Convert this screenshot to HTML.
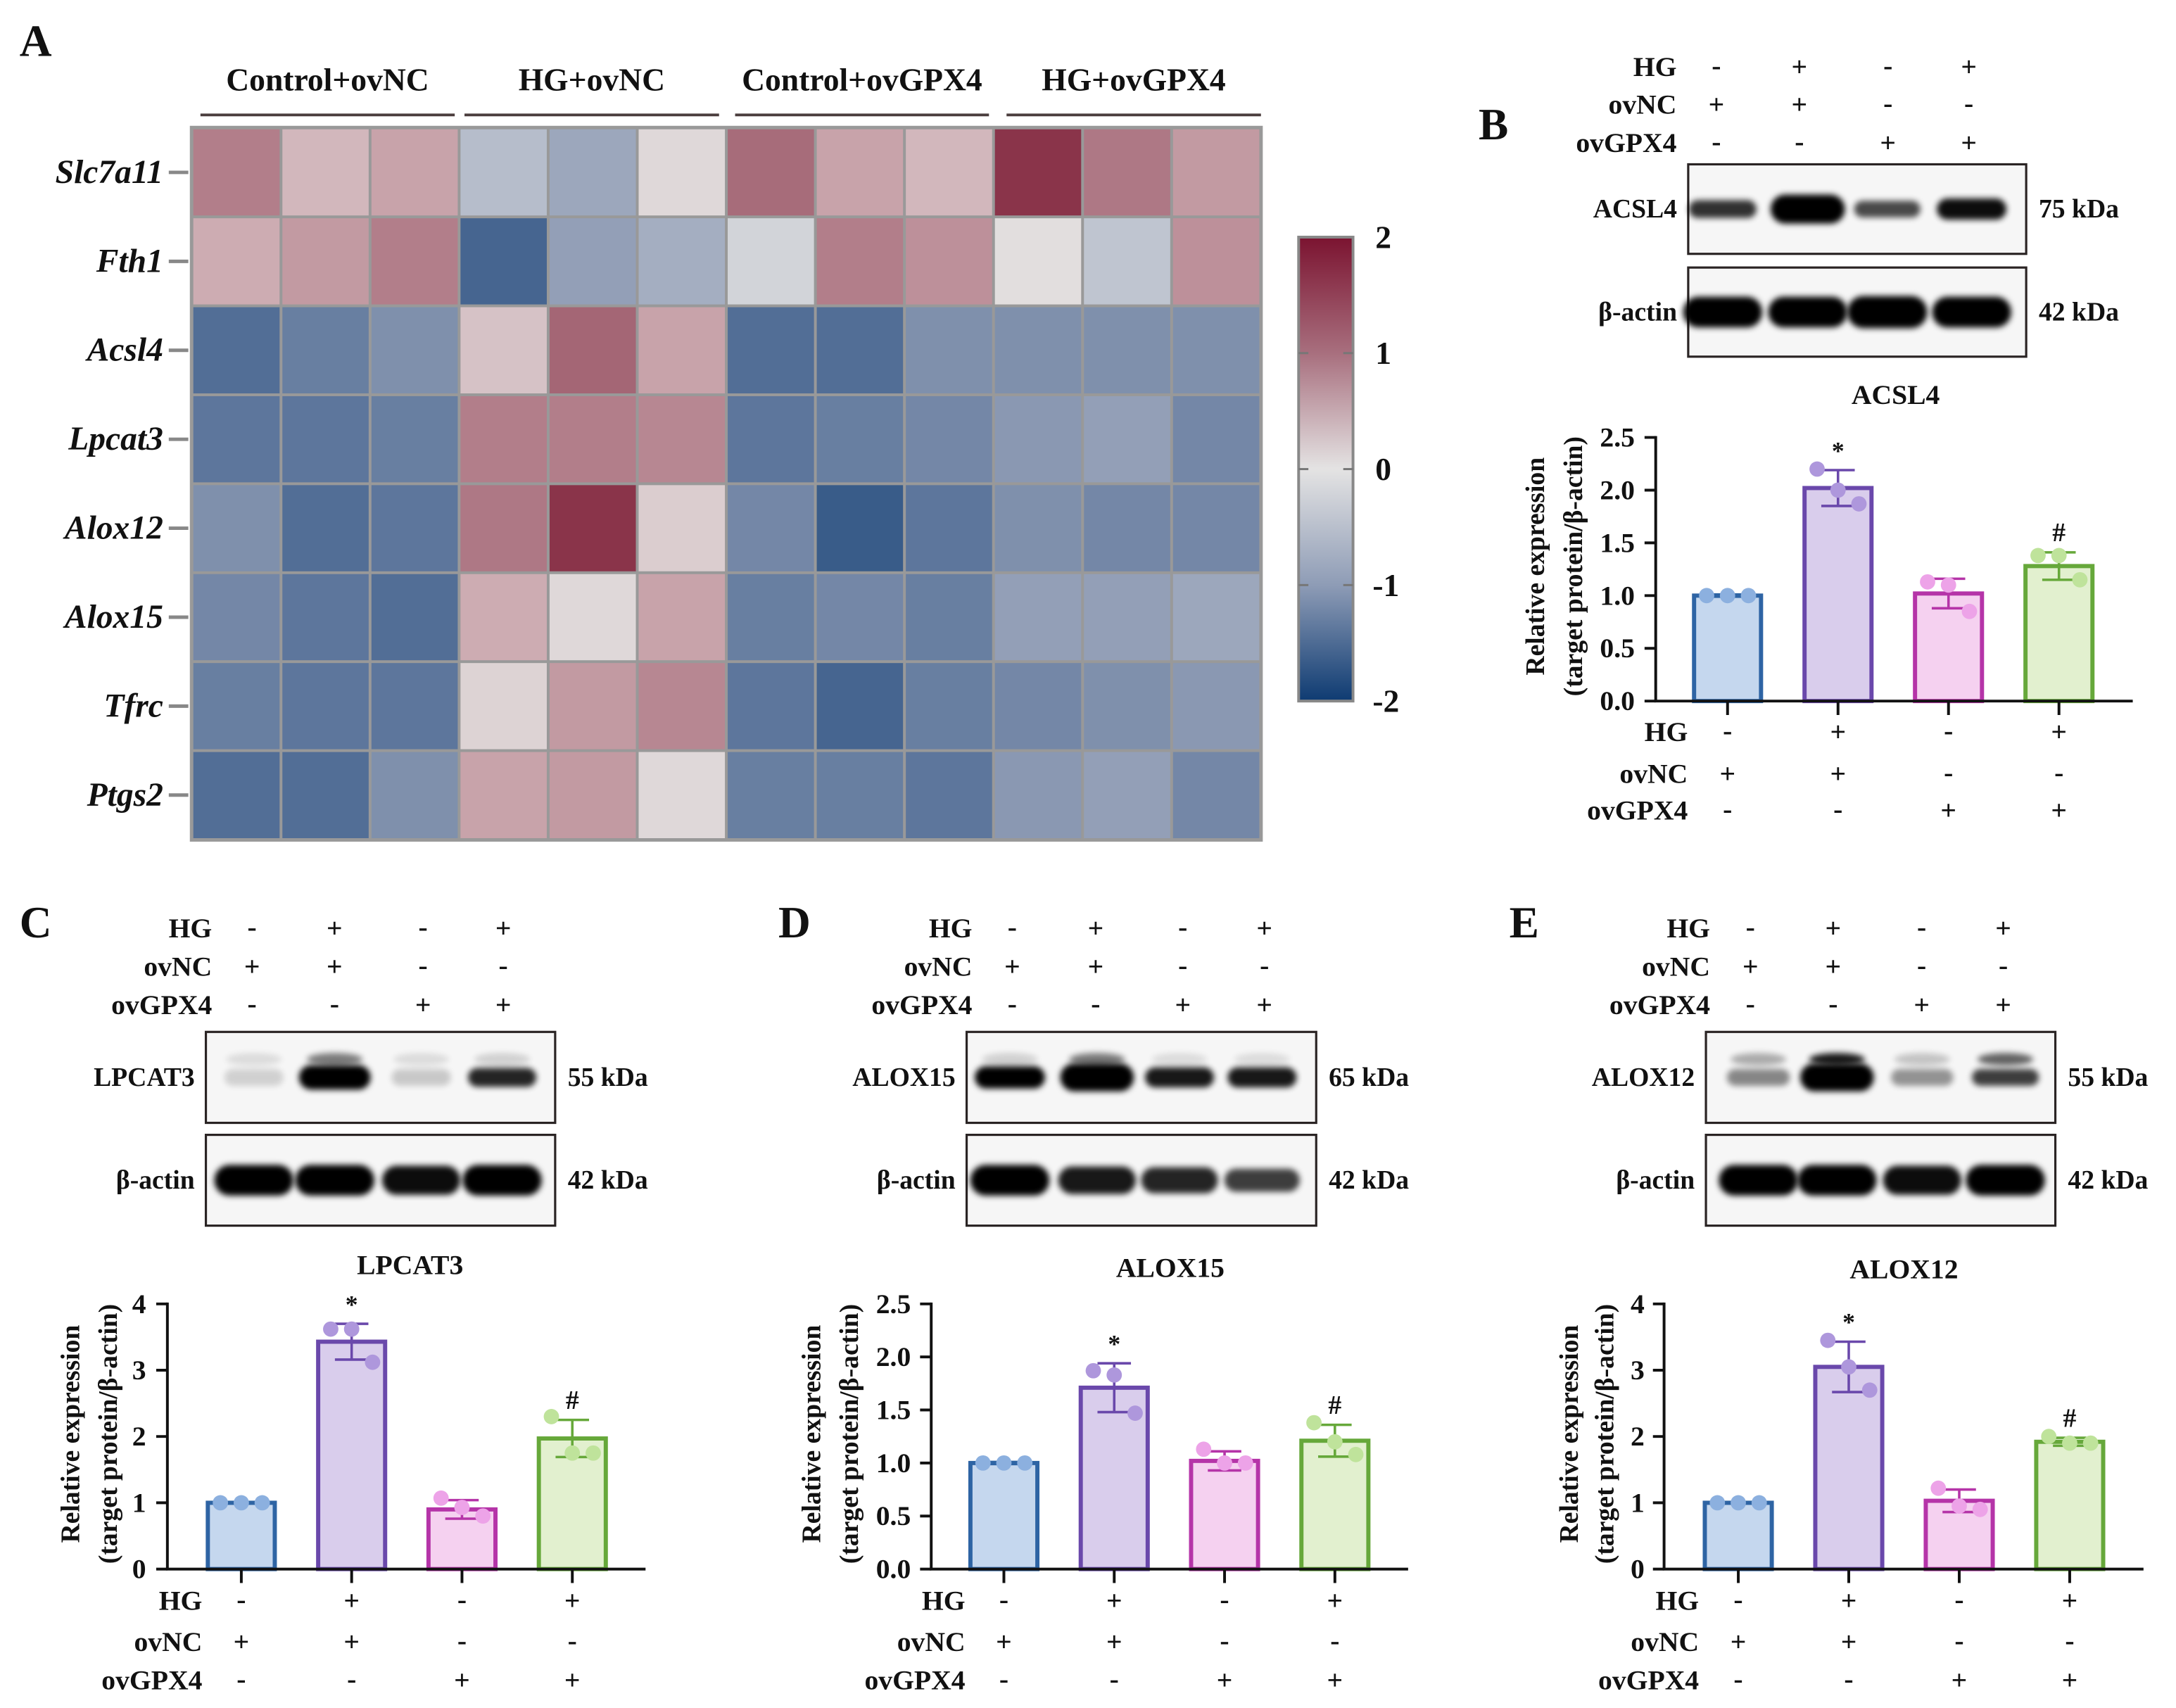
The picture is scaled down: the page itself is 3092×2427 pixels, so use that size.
<!DOCTYPE html>
<html><head><meta charset="utf-8"><style>
html,body{margin:0;padding:0;background:#fff;}
svg{display:block;}
text{font-family:"Liberation Serif",serif;font-weight:bold;fill:#111;}
</style></head><body>
<svg id="fig" xmlns="http://www.w3.org/2000/svg" width="3092" height="2427" viewBox="0 0 1560 1224.5" preserveAspectRatio="none">
<defs>
<linearGradient id="cbar" x1="0" y1="0" x2="0" y2="1">
<stop offset="0" stop-color="#7b1330"/><stop offset="0.25" stop-color="#a86f7e"/><stop offset="0.5" stop-color="#e4e3e3"/><stop offset="0.75" stop-color="#8e9cb6"/><stop offset="1" stop-color="#0e3b72"/>
</linearGradient>
<filter id="blur" x="-20%" y="-50%" width="140%" height="200%"><feGaussianBlur stdDeviation="2.2"/></filter>
</defs>
<g id="root"></g>
</svg>
<script>
// ---------- Heatmap data ----------
const genes = ["Slc7a11","Fth1","Acsl4","Lpcat3","Alox12","Alox15","Tfrc","Ptgs2"];
const groups = ["Control+ovNC","HG+ovNC","Control+ovGPX4","HG+ovGPX4"];
const hmSlc7a11 = [1.0,0.4,0.6,-0.5,-0.8,0.1,1.3,0.6,0.4,2.0,1.1,0.7];
const hmFth1 = [0.5,0.7,1.0,-1.6,-0.9,-0.7,-0.2,1.0,0.8,0.05,-0.4,0.8];
const hmAcsl4 = [-1.5,-1.3,-1.1,0.3,1.4,0.6,-1.5,-1.5,-1.1,-1.1,-1.1,-1.1];
const hmLpcat3 = [-1.4,-1.4,-1.3,1.0,1.0,0.9,-1.4,-1.3,-1.2,-1.0,-0.9,-1.2];
const hmAlox12 = [-1.1,-1.5,-1.4,1.1,2.0,0.2,-1.2,-1.7,-1.4,-1.1,-1.2,-1.2];
const hmAlox15 = [-1.2,-1.4,-1.5,0.5,0.1,0.6,-1.3,-1.2,-1.3,-0.9,-0.9,-0.8];
const hmTfrc = [-1.3,-1.4,-1.4,0.15,0.7,0.9,-1.4,-1.6,-1.3,-1.2,-1.1,-1.0];
const hmPtgs2 = [-1.5,-1.5,-1.1,0.6,0.7,0.1,-1.3,-1.3,-1.4,-1.0,-0.9,-1.2];
const colorbarTicks = [2,1,0,-1,-2];

// ---------- Bar chart data ----------
const conditions = ["HG","ovNC","ovGPX4"];
const signHG = ["-","+","-","+"];
const signOvNC = ["+","+","-","-"];
const signOvGPX4 = ["-","-","+","+"];
const barsB = [1.0,2.02,1.02,1.28];
const sdB = [0.01,0.17,0.14,0.13];
const dotsB = [[1,1,1],[2.2,2.0,1.87],[1.13,1.1,0.85],[1.38,1.38,1.15]];
const ticksB = [0,0.5,1.0,1.5,2.0,2.5];
const barsC = [1.0,3.43,0.9,1.97];
const sdC = [0.01,0.27,0.14,0.28];
const dotsC = [[1,1,1],[3.62,3.62,3.12],[1.07,0.93,0.8],[2.3,1.75,1.75]];
const ticksC = [0,1,2,3,4];
const barsD = [1.0,1.71,1.02,1.21];
const sdD = [0.01,0.23,0.09,0.15];
const dotsD = [[1,1,1],[1.87,1.83,1.47],[1.13,1.0,1.0],[1.38,1.2,1.08]];
const ticksD = [0,0.5,1.0,1.5,2.0,2.5];
const barsE = [1.0,3.05,1.03,1.92];
const sdE = [0.01,0.38,0.17,0.06];
const dotsE = [[1,1,1],[3.45,3.05,2.7],[1.22,0.95,0.9],[2.0,1.9,1.9]];
const ticksE = [0,1,2,3,4];
const markers = ["","*","","#"];
const bandB = [0.8,1.3,0.7,0.95];
const bandC = [0.15,1.1,0.18,0.85];
const bandD = [1.0,1.25,0.9,0.9];
const bandE = [0.45,1.25,0.4,0.75];
const actinB = [1.0,1.0,1.05,1.0];
const actinC = [1.0,1.0,0.95,1.0];
const actinD = [1.0,0.9,0.85,0.75];
const actinE = [1.0,1.0,0.95,1.0];

const NS = "http://www.w3.org/2000/svg";
const root = document.getElementById("root");
function mk(tag, attrs, parent, txt){
  const e = document.createElementNS(NS, tag);
  for (const k in attrs) e.setAttribute(k, attrs[k]);
  if (txt !== undefined) e.textContent = txt;
  (parent || root).appendChild(e);
  return e;
}
function lerp(a,b,t){return a+(b-a)*t;}
const stops = [[-2,[20,64,118]],[-1.5,[82,110,150]],[-1,[138,152,178]],[-0.5,[182,189,203]],[0,[228,227,227]],[0.5,[205,172,178]],[1,[178,126,138]],[1.5,[160,96,112]],[2,[138,52,74]]];
function cmap(v){
  v=Math.max(-2,Math.min(2,v));
  for(let i=0;i<stops.length-1;i++){
    if(v<=stops[i+1][0]){
      const t=(v-stops[i][0])/(stops[i+1][0]-stops[i][0]);
      const c=stops[i][1].map((x,j)=>Math.round(lerp(x,stops[i+1][1][j],t)));
      return "rgb("+c.join(",")+")";
    }
  }
  return "rgb(138,52,74)";
}

// ---------- Panel letters ----------
[["A",14,40],["B",1060,100],["C",14,672],["D",558,672],["E",1082,672]].forEach(p=>{
  const t = mk("text",{x:p[1],y:p[2],"font-size":32},root,p[0]);
  
  
});

// ---------- Heatmap ----------
(function(){
  const g = mk("g",{});
  
  
  const x0=137.6, x1=903.8, y0=91.7, y1=601.9;
  const cw=(x1-x0)/12, ch=(y1-y0)/8;
  const rows=[hmSlc7a11,hmFth1,hmAcsl4,hmLpcat3,hmAlox12,hmAlox15,hmTfrc,hmPtgs2];
  mk("rect",{x:x0-1.5,y:y0-1.5,width:x1-x0+3,height:y1-y0+3,fill:"#999"},g);
  rows.forEach((r,ri)=>{
    r.forEach((v,ci)=>{
      const c = mk("rect",{x:x0+ci*cw+1,y:y0+ri*ch+1,width:cw-2,height:ch-2,fill:cmap(v)},g);
      
      
    });
    const cy=y0+(ri+0.5)*ch;
    mk("line",{x1:121,x2:135,y1:cy,y2:cy,stroke:"#888","stroke-width":2.5},g);
    const t = mk("text",{x:117,y:cy,"text-anchor":"end","dominant-baseline":"central","font-size":24,"font-style":"italic"},g,genes[ri]);
    
    
  });
  const spans=[[143.7,326],[333,515.5],[527,709],[721.6,904]];
  groups.forEach((name,i)=>{
    const s=spans[i];
    mk("line",{x1:s[0],x2:s[1],y1:82.4,y2:82.4,stroke:"#4a3d3d","stroke-width":2},g);
    const t = mk("text",{x:(s[0]+s[1])/2,y:57,"text-anchor":"middle","dominant-baseline":"central","font-size":23},g,name);
    
    
  });
  // colorbar
  const cb = mk("g",{});
  
  
  const cbx=931, cbw=39, cby0=170, cby1=502.6;
  mk("rect",{x:cbx,y:cby0,width:cbw,height:cby1-cby0,fill:"url(#cbar)",stroke:"#888","stroke-width":2},cb);
  colorbarTicks.forEach(v=>{
    const y=cby1-(v+2)/4*(cby1-cby0);
    if(v>-2 && v<2){
      mk("line",{x1:cbx,x2:cbx+7,y1:y,y2:y,stroke:"#777","stroke-width":1.5},cb);
      mk("line",{x1:cbx+cbw-7,x2:cbx+cbw,y1:y,y2:y,stroke:"#777","stroke-width":1.5},cb);
    }
    const t = mk("text",{x:v<0?984:986,y:y,"dominant-baseline":"central","font-size":23},cb,String(v));
    
    
  });
})();

// ---------- Condition tables ----------
function condTable(name, right, cols, ys){
  const g = mk("g",{});
  
  
  const signs=[signHG,signOvNC,signOvGPX4];
  conditions.forEach((c,ri)=>{
    mk("text",{x:right,y:ys[ri],"text-anchor":"end","dominant-baseline":"central","font-size":20},g,c);
    signs[ri].forEach((s,ci)=>{
      mk("text",{x:cols[ci],y:ys[ri]+(s==="-"?-1:0),"text-anchor":"middle","dominant-baseline":"central","font-size":20,"font-weight":"normal"},g,s);
    });
  });
}

// ---------- Western blots ----------
function blot(name, x0, x1, yA, yB, lanes, label, kda, band, actin, extraTop){
  const g = mk("g",{});
  
  
  const boxes=[[yA[0],yA[1],label,kda,band,true],[yB[0],yB[1],"β-actin","42 kDa",actin,false]];
  boxes.forEach(b=>{
    mk("rect",{x:x0,y:b[0],width:x1-x0,height:b[1]-b[0],fill:"#f6f6f6",stroke:"#2a2424","stroke-width":1.6},g);
    const cy=(b[0]+b[1])/2;
    b[4].forEach((k,i)=>{
      const op=Math.min(1,k);
      const rx=(b[5]?24:27)*Math.min(1.15,0.85+0.2*k);
      const ry=(b[5]?8:11)*Math.max(0.75,Math.min(1.35,k));
      mk("rect",{x:lanes[i]-rx,y:cy-ry,width:2*rx,height:2*ry,rx:ry,ry:ry,fill:"#000",opacity:op,filter:"url(#blur)"},g);
      if(b[5] && extraTop) mk("ellipse",{cx:lanes[i],cy:cy-13,rx:20,ry:4.5,fill:"#000",opacity:extraTop[i],filter:"url(#blur)"},g);
    });
    mk("text",{x:x0-8,y:cy,"text-anchor":"end","dominant-baseline":"central","font-size":19},g,b[2]);
    mk("text",{x:x1+9,y:cy,"dominant-baseline":"central","font-size":19},g,b[3]);
  });
}

// ---------- Bar charts ----------
const fills=["#c5d7ee","#d9cdec","#f5d1f0","#e2f0cf"];
const strokes=["#2e64a4","#6a48ab","#b534a8","#66a83a"];
const dotc=["#8cb0df","#ae97dc","#eda3e8","#bfe39b"];
function barChart(name, cfg, bars, sd, dots, ticks){
  const g = mk("g",{});
  
  
  const max=ticks[ticks.length-1];
  const ys=v=>cfg.y0-(v/max)*(cfg.y0-cfg.yTop);
  const xs=i=>cfg.first+i*cfg.spacing;
  const bw=51;
  const t0 = mk("text",{x:cfg.tx,y:cfg.ty,"text-anchor":"middle","dominant-baseline":"central","font-size":20},g,cfg.title);
  
  
  bars.forEach((v,i)=>{
    const cx=xs(i);
    const r = mk("rect",{x:cx-bw/2+1.5,y:ys(v),width:bw-3,height:cfg.y0-ys(v),fill:fills[i],stroke:strokes[i],"stroke-width":3},g);
    
    
    const top=ys(v+sd[i]), bot=ys(v-sd[i]);
    mk("line",{x1:cx,x2:cx,y1:top,y2:bot,stroke:strokes[i],"stroke-width":1.8},g);
    mk("line",{x1:cx-12,x2:cx+12,y1:top,y2:top,stroke:strokes[i],"stroke-width":1.8},g);
    mk("line",{x1:cx-12,x2:cx+12,y1:bot,y2:bot,stroke:strokes[i],"stroke-width":1.8},g);
    const offs=[-15,0,15];
    dots[i].forEach((d,j)=>{
      const c = mk("circle",{cx:cx+offs[j],cy:ys(d),r:5.5,fill:dotc[i]},g);
      
      
    });
    if(markers[i]){
      mk("text",{x:cx,y:top-14,"text-anchor":"middle","dominant-baseline":"central","font-size":markers[i]==="*"?18:19,"font-weight":"normal"},g,markers[i]);
    }
    mk("line",{x1:cx,x2:cx,y1:cfg.y0,y2:cfg.y0+10,stroke:"#111","stroke-width":2},g);
  });
  // axes
  mk("line",{x1:cfg.ax,x2:cfg.ax,y1:cfg.yTop-1,y2:cfg.y0,stroke:"#111","stroke-width":2},g);
  mk("line",{x1:cfg.ax-1,x2:cfg.xEnd,y1:cfg.y0,y2:cfg.y0,stroke:"#111","stroke-width":2},g);
  ticks.forEach(t=>{
    mk("line",{x1:cfg.ax-8,x2:cfg.ax,y1:ys(t),y2:ys(t),stroke:"#111","stroke-width":2},g);
    const tl = mk("text",{x:cfg.tr,y:ys(t),"text-anchor":"end","dominant-baseline":"central","font-size":20},g,cfg.dec?t.toFixed(1):String(t));
    
    
  });
  const yt = mk("text",{transform:"translate("+cfg.yt1+","+cfg.ytc+") rotate(-90)","text-anchor":"middle","dominant-baseline":"central","font-size":19},g,"Relative expression");
  
  
  mk("text",{transform:"translate("+cfg.yt2+","+cfg.ytc+") rotate(-90)","text-anchor":"middle","dominant-baseline":"central","font-size":19},g,"(target protein/β-actin)");
  // condition labels below
  const signs=[signHG,signOvNC,signOvGPX4];
  conditions.forEach((c,ri)=>{
    mk("text",{x:cfg.br,y:cfg.by[ri],"text-anchor":"end","dominant-baseline":"central","font-size":20},g,c);
    signs[ri].forEach((s,ci)=>{
      mk("text",{x:xs(ci),y:cfg.by[ri]+(s==="-"?-1:0),"text-anchor":"middle","dominant-baseline":"central","font-size":20,"font-weight":"normal"},g,s);
    });
  });
}

// Panel B
condTable("conditions-b",1202,[1230.5,1290,1353.5,1411.5],[48,75,102.5]);
blot("western-blot-b",1210.3,1452.6,[117.8,182],[191.8,255.7],[1235,1296,1353,1413.5],"ACSL4","75 kDa",bandB,actinB,null);
barChart("bar-chart-acsl4",{title:"ACSL4",tx:1359,ty:283,ax:1187,y0:502.6,yTop:313.6,xEnd:1529,first:1238.5,spacing:79.2,tr:1172,dec:true,yt1:1101,yt2:1128,ytc:406,br:1210,by:[524.6,554.8,581]},barsB,sdB,dotsB,ticksB);

// Panel C
condTable("conditions-c",152,[180.7,239.8,303.3,360.8],[665.5,693,720.5]);
blot("western-blot-c",147.6,398,[739.8,805],[813.6,878.7],[182,240,302,360],"LPCAT3","55 kDa",bandC,actinC,[0.1,0.5,0.1,0.15]);
barChart("bar-chart-lpcat3",{title:"LPCAT3",tx:294,ty:907,ax:120,y0:1124.9,yTop:934.8,xEnd:462.8,first:173,spacing:79.1,tr:104.7,dec:false,yt1:50.7,yt2:77.7,ytc:1028,br:145,by:[1147.6,1177,1204.5]},barsC,sdC,dotsC,ticksC);

// Panel D
condTable("conditions-d",697,[725.7,785.5,848,906.5],[665.5,693,720.5]);
blot("western-blot-d",693,943.6,[739.8,805],[813.6,878.7],[724,786.5,845.6,904.8],"ALOX15","65 kDa",bandD,actinD,[0.15,0.5,0.1,0.1]);
barChart("bar-chart-alox15",{title:"ALOX15",tx:839,ty:909,ax:667.6,y0:1124.9,yTop:934.8,xEnd:1009.5,first:719.7,spacing:79.1,tr:653,dec:true,yt1:582,yt2:609,ytc:1028,br:692,by:[1147.6,1177,1204.5]},barsD,sdD,dotsD,ticksD);

// Panel E
condTable("conditions-e",1226,[1254.9,1314.2,1377.7,1436.2],[665.5,693,720.5]);
blot("western-blot-e",1223,1473.5,[739.8,805],[813.6,878.7],[1260.6,1317,1378,1437.7],"ALOX12","55 kDa",bandE,actinE,[0.3,0.9,0.2,0.6]);
barChart("bar-chart-alox12",{title:"ALOX12",tx:1365,ty:910,ax:1193,y0:1124.9,yTop:934.8,xEnd:1536.7,first:1246.2,spacing:79.2,tr:1179,dec:false,yt1:1125,yt2:1150.5,ytc:1028,br:1218,by:[1147.6,1177,1204.5]},barsE,sdE,dotsE,ticksE);
</script>
</body></html>
